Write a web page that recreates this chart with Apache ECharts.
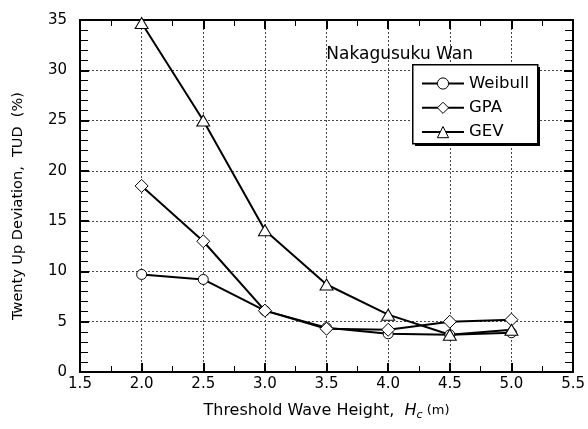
<!DOCTYPE html>
<html>
<head>
<meta charset="utf-8">
<script src="https://cdn.jsdelivr.net/npm/echarts@6/dist/echarts.min.js"></script>
<style>html,body{margin:0;padding:0;background:#fff}#c{width:588px;height:429px}</style>
</head>
<body>
<div id="c"></div>
<script>
const xValues = [2.0, 2.5, 3.0, 3.5, 4.0, 4.5, 5.0];
const weibull = [9.7, 9.2, 6.1, 4.4, 3.8, 3.7, 3.9];
const gpa = [18.5, 13.0, 6.1, 4.3, 4.2, 5.0, 5.2];
const gev = [34.7, 25.0, 14.1, 8.7, 5.7, 3.7, 4.2];
const seriesNames = ['Weibull', 'GPA', 'GEV'];
const chartTitle = 'Nakagusuku Wan';

const font = '"DejaVu Sans", sans-serif';
const chart = echarts.init(document.getElementById('c'));
const pair = (arr) => xValues.map((x, i) => [x, arr[i]]);

const gridStyle = { color: '#444', type: [2, 2], width: 1 };
function xAx(pos, labels) {
  return {
    type: 'value', position: pos, min: 1.5, max: 5.5, interval: 0.5,
    axisLine: { show: true, onZero: false, lineStyle: { color: '#000', width: 2 } },
    axisTick: { show: true, inside: true, length: 9, lineStyle: { color: '#000', width: 2 } },
    minorTick: { show: true, splitNumber: 2, length: 6, lineStyle: { color: '#000', width: 1 } },
    axisLabel: { show: labels, margin: 5, fontSize: 15, color: '#000', fontFamily: font,
      formatter: v => v.toFixed(1) },
    splitLine: { show: labels, lineStyle: gridStyle },
    name: labels ? '{n|Threshold Wave Height,  }{h|H}{s|c}{m| (m)}' : '',
    nameLocation: 'middle', nameGap: 29,
    nameTextStyle: { rich: {
      n: { fontSize: 16, fontFamily: font, color: '#000' },
      h: { fontSize: 16, fontFamily: font, fontStyle: 'italic', color: '#000' },
      s: { fontSize: 11, fontFamily: font, fontStyle: 'italic', color: '#000', padding: [9, 0, 0, 0] },
      m: { fontSize: 13, fontFamily: font, color: '#000' }
    } }
  };
}
function yAx(pos, labels) {
  return {
    type: 'value', position: pos, min: 0, max: 35, interval: 5,
    axisLine: { show: true, onZero: false, lineStyle: { color: '#000', width: 2 } },
    axisTick: { show: true, inside: true, length: 9, lineStyle: { color: '#000', width: 2 } },
    minorTick: { show: true, splitNumber: 5, length: 8, lineStyle: { color: '#000', width: 1 } },
    axisLabel: { show: labels, margin: 13, fontSize: 15, color: '#000', fontFamily: font },
    splitLine: { show: labels, lineStyle: gridStyle },
    name: labels ? 'Twenty Up Deviation,  TUD  (%)' : '',
    nameLocation: 'middle', nameGap: 54,
    nameTextStyle: { fontSize: 14.5, fontFamily: font, color: '#000', padding: [0, 20, 0, 0] }
  };
}

function ser(name, arr, symbol, size) {
  return {
    name, type: 'line', data: pair(arr), symbol, symbolSize: size,
    showAllSymbol: true,
    lineStyle: { color: '#000', width: 2 },
    itemStyle: { color: '#fff', borderColor: '#000', borderWidth: 1 },
    emphasis: { disabled: true }, animation: false
  };
}

chart.setOption({
  animation: false,
  backgroundColor: '#fff',
  title: { text: chartTitle, right: 110, top: 41,
    textStyle: { fontSize: 17, fontWeight: 'normal', fontFamily: font, color: '#000' } },
  grid: { left: 80, right: 11, top: 20, bottom: 57, containLabel: false },
  xAxis: [xAx('bottom', true), xAx('top', false)],
  yAxis: [yAx('left', true), yAx('right', false)],
  graphic: [
    { type: 'rect', left: 415, top: 67, shape: { width: 125, height: 79 }, style: { fill: '#000' }, z: 10 },
    { type: 'rect', left: 412, top: 64, shape: { width: 125, height: 79 },
      style: { fill: '#fff', stroke: '#000', lineWidth: 1.5 }, z: 11 }
  ],
  legend: {
    orient: 'vertical', left: 412, top: 64, z: 20,
    data: seriesNames, itemWidth: 42, itemHeight: 14, itemGap: 7.3,
    padding: [11, 8, 11, 9],
    itemStyle: { borderWidth: 1, borderColor: '#000', color: '#fff' },
    lineStyle: { width: 2, color: '#000' },
    textStyle: { fontSize: 16.5, lineHeight: 14, fontFamily: font, color: '#000' },
    selectedMode: false
  },
  series: [
    ser(seriesNames[0], weibull, 'circle', 10),
    ser(seriesNames[1], gpa, 'diamond', 13),
    ser(seriesNames[2], gev, 'triangle', [13, 11])
  ]
});
</script>
</body>
</html>
